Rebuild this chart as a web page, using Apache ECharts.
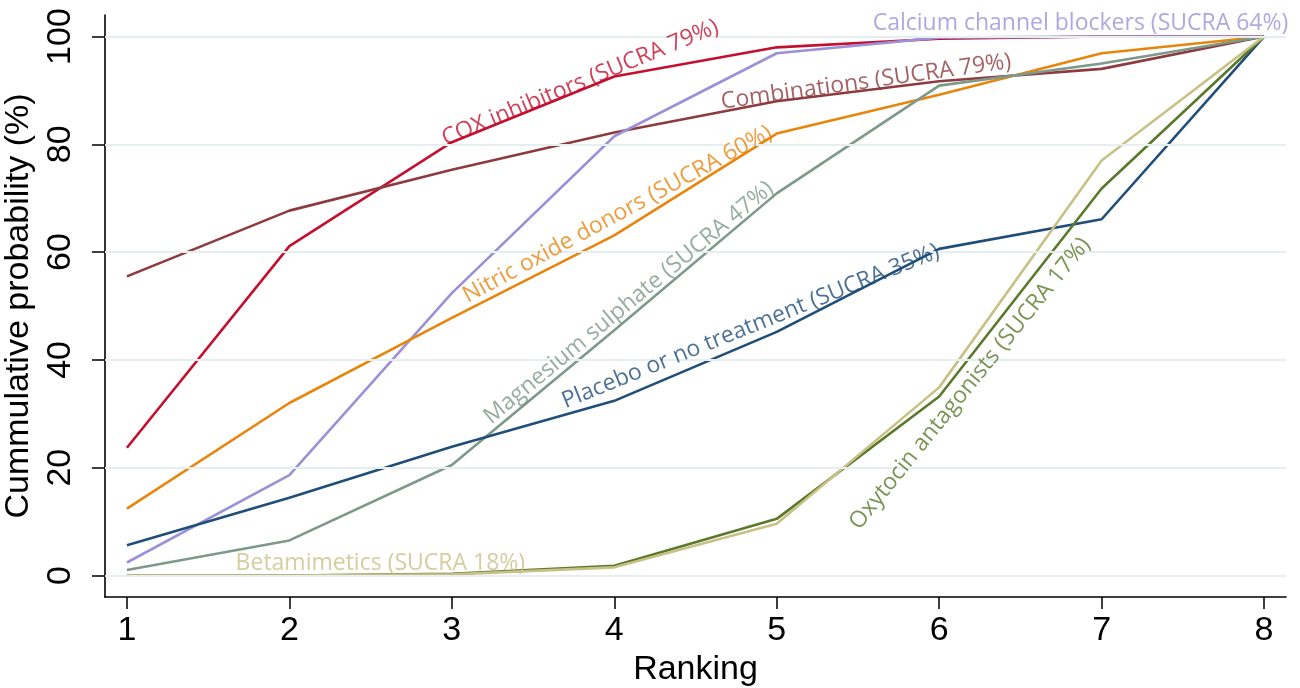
<!DOCTYPE html>
<html>
<head>
<meta charset="utf-8">
<script src="https://cdn.jsdelivr.net/npm/echarts@6/dist/echarts.min.js"></script>
<style>html,body{margin:0;padding:0;background:#fff}#c{width:1300px;height:688px}</style>
</head>
<body>
<div id="c"></div>
<script>
// ---- data ----
var ranks = [1, 2, 3, 4, 5, 6, 7, 8];
var yTicks = [0, 20, 40, 60, 80, 100];
var coxInhibitors    = [23.7, 61.1, 80.4, 92.6, 98.0, 99.6, 100, 100];
var combinations     = [55.5, 67.7, 75.3, 82.2, 88.0, 91.7, 94.0, 100];
var calciumBlockers  = [2.4, 18.6, 52.4, 81.5, 96.9, 99.8, 100, 100];
var nitricOxide      = [12.4, 32.0, 47.8, 63.1, 82.0, 89.2, 96.9, 100];
var magnesium        = [1.0, 6.5, 20.5, 45.5, 70.9, 90.9, 95.0, 100];
var placebo          = [5.6, 14.4, 23.9, 32.4, 45.2, 60.6, 66.1, 100];
var oxytocin         = [0.0, 0.0, 0.3, 1.8, 10.5, 33.2, 71.8, 100];
var betamimetics     = [0.0, 0.0, 0.2, 1.5, 9.6, 34.9, 77.0, 100];

var names = {
  cox: 'COX inhibitors (SUCRA 79%)',
  comb: 'Combinations (SUCRA 79%)',
  ccb: 'Calcium channel blockers (SUCRA 64%)',
  no: 'Nitric oxide donors (SUCRA 60%)',
  mg: 'Magnesium sulphate (SUCRA 47%)',
  pl: 'Placebo or no treatment (SUCRA 35%)',
  ox: 'Oxytocin antagonists (SUCRA 17%)',
  bm: 'Betamimetics (SUCRA 18%)'
};
var colors = {
  cox: '#c4102f', comb: '#8e3b3f', ccb: '#9b91d6', no: '#e8850c',
  mg: '#7c9989', pl: '#1f4e79', ox: '#5a792c', bm: '#c9c086'
};
// annotation anchor (data coords) and rotation
var notes = [
  {k: 'cox',  x: 3.79, y: 91.4, r: 22.5},
  {k: 'ccb',  x: 6.87, y: 102.5, r: 0},
  {k: 'comb', x: 5.55, y: 91.6, r: 8},
  {k: 'no',   x: 4.02, y: 67.0, r: 28.5},
  {k: 'mg',   x: 4.09, y: 50.6, r: 39.5},
  {k: 'pl',   x: 4.84, y: 46.2, r: 22},
  {k: 'ox',   x: 6.19, y: 35.6, r: 51},
  {k: 'bm',   x: 2.56, y: 2.3, r: 0}
];

function pairs(arr) { return ranks.map(function (r, i) { return [r, arr[i]]; }); }

var seriesDefs = [
  ['cox', coxInhibitors], ['comb', combinations], ['ccb', calciumBlockers],
  ['no', nitricOxide], ['mg', magnesium], ['pl', placebo],
  ['ox', oxytocin], ['bm', betamimetics]
];

var series = [{
  type: 'line', data: [], z: 1, silent: true,
  markLine: {
    silent: true, symbol: 'none', animation: false,
    label: {show: false},
    lineStyle: {color: '#e6eef0', width: 2, type: 'solid'},
    data: yTicks.map(function (v) { return {yAxis: v}; })
  }
}];
seriesDefs.forEach(function (d) {
  series.push({
    type: 'line', name: names[d[0]], data: pairs(d[1]), z: 3,
    showSymbol: false, symbol: 'none', silent: true, animation: false,
    lineStyle: {color: colors[d[0]], width: 2.6},
    itemStyle: {color: colors[d[0]]}
  });
});
series.push({
  type: 'scatter', z: 5, symbolSize: 0, silent: true, animation: false,
  data: notes.map(function (n) {
    return {
      value: [n.x, n.y],
      label: {
        show: true, position: 'inside', rotate: n.r,
        formatter: names[n.k], color: colors[n.k],
        textBorderWidth: 0, textBorderColor: 'transparent',
        fontFamily: 'Open Sans', fontSize: 23
      }
    };
  })
});

var chart = echarts.init(document.getElementById('c'), null, {renderer: 'canvas'});
chart.setOption({
  animation: false,
  backgroundColor: '#fff',
  grid: {left: 105, right: 14, top: 15, bottom: 91, containLabel: false, outerBoundsMode: 'none'},
  xAxis: {
    type: 'value', min: 0.865, max: 8.135,
    name: 'Ranking', nameLocation: 'middle', nameGap: 51,
    nameTextStyle: {fontFamily: 'Liberation Sans', fontSize: 34, color: '#000'},
    axisLine: {show: true, onZero: false, lineStyle: {color: '#000', width: 1.6}},
    axisTick: {show: true, length: 12, customValues: ranks, lineStyle: {color: '#000', width: 1.5}},
    axisLabel: {customValues: ranks, margin: 17, fontFamily: 'Liberation Sans', fontSize: 34, color: '#000'},
    splitLine: {show: false}
  },
  yAxis: {
    type: 'value', min: -4, max: 104,
    name: 'Cummulative probability (%)', nameLocation: 'middle', nameGap: 53, nameRotate: 90,
    nameTextStyle: {fontFamily: 'Liberation Sans', fontSize: 34, color: '#000'},
    axisLine: {show: true, onZero: false, lineStyle: {color: '#000', width: 1.6}},
    axisTick: {show: true, length: 13, customValues: yTicks, lineStyle: {color: '#000', width: 1.5}},
    axisLabel: {customValues: yTicks, rotate: 90, margin: 27, fontFamily: 'Liberation Sans', fontSize: 34, color: '#000'},
    splitLine: {show: false}
  },
  series: series
});
</script>
</body>
</html>
